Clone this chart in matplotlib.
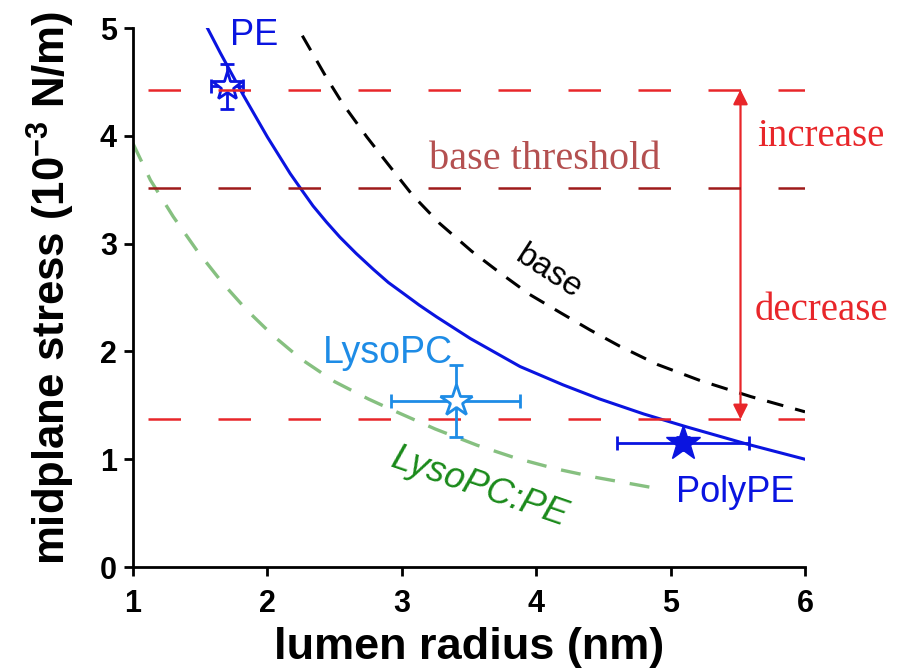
import matplotlib
matplotlib.use('Agg')
import matplotlib.pyplot as plt

plt.rcParams['font.family'] = ['Liberation Sans', 'DejaVu Sans']
plt.rcParams['mathtext.fontset'] = 'custom'
plt.rcParams['mathtext.rm'] = 'Liberation Sans:bold'
plt.rcParams['mathtext.default'] = 'rm'

# curves
pe_x = [1.55, 1.65, 1.82, 2.00, 2.08, 2.17, 2.26, 2.34, 2.44, 2.54, 2.66, 2.79,
        2.90, 3.01, 3.13, 3.26, 3.51, 3.88, 4.20, 4.47, 4.80, 5.12, 5.57, 6.0]
pe_y = [5.01, 4.77, 4.38, 3.99, 3.83, 3.65, 3.49, 3.35, 3.20, 3.06, 2.91, 2.76,
        2.64, 2.54, 2.43, 2.32, 2.12, 1.86, 1.69, 1.56, 1.42, 1.30, 1.14, 1.00]

base_x = [2.26, 2.44, 2.56, 2.74, 2.89, 3.08, 3.28, 3.52, 3.73, 3.95, 4.18, 4.40,
          4.62, 4.90, 5.22, 5.60, 6.0]
base_y = [4.93, 4.54, 4.30, 3.99, 3.75, 3.45, 3.19, 2.93, 2.73, 2.53, 2.36, 2.20,
          2.05, 1.88, 1.73, 1.58, 1.44]

mix_x = [1.00, 1.13, 1.30, 1.48, 1.67, 1.85, 2.04, 2.25, 2.50, 2.75, 2.96, 3.25,
         3.56, 3.85, 4.15, 4.45, 4.85]
mix_y = [3.93, 3.59, 3.25, 2.93, 2.63, 2.38, 2.15, 1.93, 1.72, 1.56, 1.44, 1.28,
         1.13, 1.01, 0.91, 0.83, 0.74]

# thresholds
thr_high = 4.43
thr_base = 3.52
thr_low = 1.37

# measured points: name, x, y, xerr, yerr
pts_name = ['PE', 'LysoPC', 'PolyPE']
pts_x = [1.70, 3.40, 5.09]
pts_y = [4.46, 1.54, 1.15]
pts_xerr = [0.12, 0.48, 0.49]
pts_yerr = [0.21, 0.33, 0.06]

BLUE = '#0a14e0'
LBLUE = '#1e8ce6'
GREEN_L = '#86c080'
RED = '#e8262a'
DRED = '#9e1a1a'

fig = plt.figure(figsize=(9.12, 6.70), dpi=100)
ax = fig.add_axes([0.1458, 0.1537, 0.7369, 0.8043])

ax.plot(mix_x, mix_y, color=GREEN_L, lw=2.4, dashes=(6, 4.5), zorder=2,
        dash_joinstyle='round')
ax.plot(base_x, base_y, color='black', lw=2.2, dashes=(5.5, 4), zorder=2,
        dash_joinstyle='round')
ax.plot(pe_x, pe_y, color=BLUE, lw=2.2, zorder=3, solid_joinstyle='round')

for yv, col in [(thr_high, RED), (thr_base, DRED), (thr_low, RED)]:
    ax.plot([1.11, 6.0], [yv, yv], color=col, lw=1.8, dashes=(13, 15), zorder=4)

ax.annotate('', xy=(5.52, thr_high), xytext=(5.52, thr_low),
            arrowprops=dict(arrowstyle='<|-|>', color=RED, lw=1.6,
                            mutation_scale=22, shrinkA=0, shrinkB=0))

# PE open star
ax.errorbar(pts_x[0], pts_y[0], xerr=pts_xerr[0], yerr=pts_yerr[0], fmt='*',
            ms=22, mfc='white', mec=BLUE, mew=2, color=BLUE, elinewidth=2,
            capsize=5, capthick=2, zorder=3)
# LysoPC open star
ax.errorbar(pts_x[1], pts_y[1], xerr=pts_xerr[1], yerr=pts_yerr[1], fmt='*',
            ms=24, mfc='white', mec=LBLUE, mew=2, color=LBLUE, elinewidth=2,
            capsize=5, capthick=2, zorder=5)
# PolyPE filled star
ax.errorbar(pts_x[2], pts_y[2], xerr=pts_xerr[2], yerr=pts_yerr[2], fmt='*',
            ms=26, mfc=BLUE, mec=BLUE, color=BLUE, elinewidth=2,
            capsize=5, capthick=2, zorder=5)

sans = ['Liberation Sans', 'DejaVu Sans']
serif = ['Liberation Serif', 'DejaVu Serif']
ax.text(1.90, 4.93, pts_name[0], color=BLUE, fontsize=26, family=sans,
        ha='center', va='center')
ax.text(2.90, 1.99, pts_name[1], color=LBLUE, fontsize=27, family=sans,
        ha='center', va='center')
ax.text(5.48, 0.69, pts_name[2], color=BLUE, fontsize=26, family=sans,
        ha='center', va='center')
ax.text(3.58, 0.74, 'LysoPC:PE', color='#1a8a1a', fontsize=26, family=sans,
        style='italic', rotation=-19, ha='center', va='center')
ax.text(4.09, 2.73, 'base', color='black', fontsize=24, family=sans,
        rotation=-33, ha='center', va='center')
ax.text(4.06, 3.78, 'base threshold', color='#b45050', fontsize=29, family=serif,
        ha='center', va='center')
ax.text(6.12, 3.99, 'increase', color=RED, fontsize=28, family=serif,
        ha='center', va='center', clip_on=False)
ax.text(6.12, 2.38, 'decrease', color=RED, fontsize=28, family=serif,
        ha='center', va='center', clip_on=False)

ax.set_xlim(1, 6)
ax.set_ylim(0, 5)
ax.set_xticks([1, 2, 3, 4, 5, 6])
ax.set_yticks([0, 1, 2, 3, 4, 5])
ax.spines['top'].set_visible(False)
ax.spines['right'].set_visible(False)
for s in ['left', 'bottom']:
    ax.spines[s].set_linewidth(2)
ax.tick_params(direction='out', length=6.5, width=2, labelsize=22)
ax.tick_params(axis='x', pad=9)
ax.tick_params(axis='y', pad=5)
for lab in ax.get_xticklabels() + ax.get_yticklabels():
    lab.set_fontweight('bold')

ax.set_xlabel('lumen radius (nm)', fontsize=32.5, fontweight='bold', labelpad=6)
ax.set_ylabel(r'midplane stress (10$^{-3}$ N/m)', fontsize=31.5, fontweight='bold')
ax.yaxis.set_label_coords(-0.084, 0.518)

fig.savefig('out.png', dpi=100)
